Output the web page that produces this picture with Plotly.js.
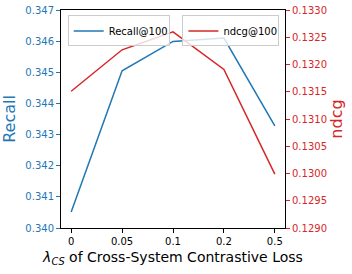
<!DOCTYPE html>
<html>
<head>
<meta charset="utf-8">
<script src="https://cdn.plot.ly/plotly-3.0.1.min.js"></script>
<style>html,body{margin:0;padding:0;background:#fff}#chart{width:352px;height:274px}</style>
</head>
<body>
<div id="chart"></div>
<script>
const categories = ["0", "0.05", "0.1", "0.2", "0.5"];
const recall = [0.34051, 0.34505, 0.34599, 0.34610, 0.34328];
const ndcg = [0.13151, 0.13227, 0.13260, 0.13191, 0.12999];
const recallTicks = [0.340, 0.341, 0.342, 0.343, 0.344, 0.345, 0.346, 0.347];
const ndcgTicks = [0.1290, 0.1295, 0.1300, 0.1305, 0.1310, 0.1315, 0.1320, 0.1325, 0.1330];

const blue = "#1f77b4", red = "#d62728";
const xIdx = categories.map((_, i) => i);

const traces = [
  {x: xIdx, y: recall, type: "scatter", mode: "lines", name: "Recall@100",
   line: {color: blue, width: 1.5}, yaxis: "y", legend: "legend"},
  {x: xIdx, y: ndcg, type: "scatter", mode: "lines", name: "ndcg@100",
   line: {color: red, width: 1.5}, yaxis: "y2", legend: "legend2"}
];

const font = {family: "DejaVu Sans", size: 10, color: "#000"};
const layout = {
  width: 352, height: 274,
  margin: {l: 61, r: 67, t: 10, b: 46},
  paper_bgcolor: "#fff", plot_bgcolor: "#fff",
  font: font,
  showlegend: true,
  xaxis: {
    range: [-0.2, 4.2], tickvals: xIdx, ticktext: categories,
    showgrid: false, zeroline: false,
    showline: true, linecolor: "#000", linewidth: 1, mirror: true,
    ticks: "outside", ticklen: 4, tickcolor: "#000",
    tickfont: {family: "DejaVu Sans", size: 10, color: "#000"},
    title: {text: "<i>λ</i><sub><i>CS</i></sub> of Cross-System Contrastive Loss",
            font: {family: "DejaVu Sans", size: 14, color: "#000"}, standoff: 6}
  },
  yaxis: {
    range: [0.340, 0.347], tickvals: recallTicks, ticktext: recallTicks.map(v => v.toFixed(3)),
    showgrid: false, zeroline: false,
    showline: true, linecolor: "#000", linewidth: 1,
    ticks: "outside", ticklen: 4, tickcolor: blue,
    tickfont: {family: "DejaVu Sans", size: 10, color: blue},
    title: {text: "Recall", font: {family: "DejaVu Sans", size: 16, color: blue}, standoff: 6}
  },
  yaxis2: {
    overlaying: "y", side: "right",
    range: [0.1290, 0.1330], tickvals: ndcgTicks, ticktext: ndcgTicks.map(v => v.toFixed(4)),
    showgrid: false, zeroline: false,
    showline: true, linecolor: "#000", linewidth: 1,
    ticks: "outside", ticklen: 4, tickcolor: red,
    tickfont: {family: "DejaVu Sans", size: 10, color: red},
    title: {text: "ndcg", font: {family: "DejaVu Sans", size: 16, color: red}, standoff: 3}
  },
  legend: {
    orientation: "h", entrywidth: 55, entrywidthmode: "pixels",
    x: 0.03, y: 0.975, xanchor: "left", yanchor: "top",
    bgcolor: "rgba(255,255,255,0.8)", bordercolor: "#ccc", borderwidth: 1,
    font: {family: "DejaVu Sans", size: 10, color: "#000"}
  },
  legend2: {
    orientation: "h", entrywidth: 50, entrywidthmode: "pixels",
    x: 0.975, y: 0.975, xanchor: "right", yanchor: "top",
    bgcolor: "rgba(255,255,255,0.8)", bordercolor: "#ccc", borderwidth: 1,
    font: {family: "DejaVu Sans", size: 10, color: "#000"}
  }
};

Plotly.newPlot("chart", traces, layout, {displayModeBar: false, staticPlot: true});
</script>
</body>
</html>
